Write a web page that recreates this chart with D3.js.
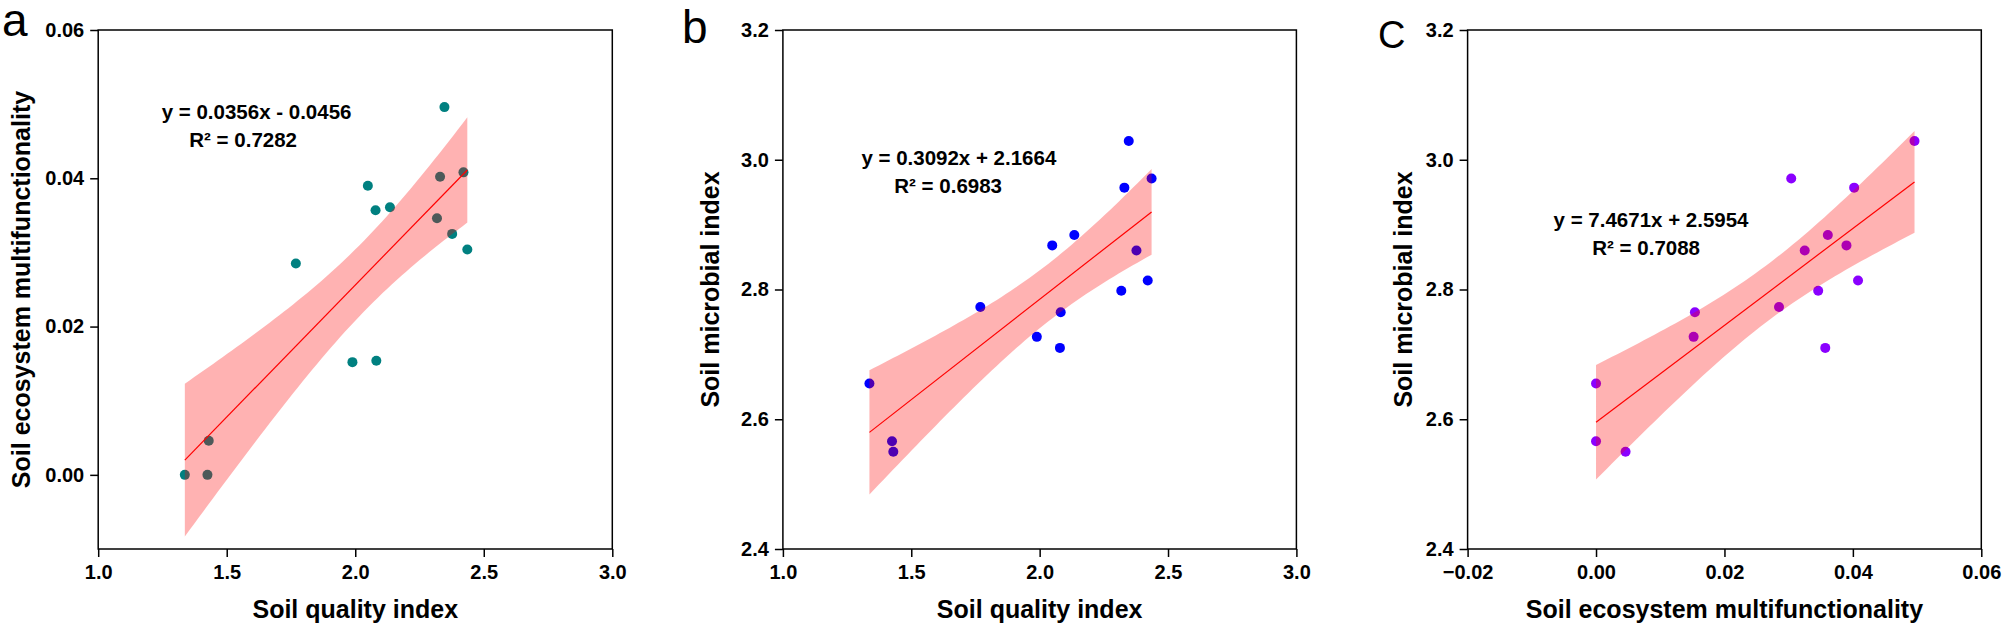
<!DOCTYPE html>
<html>
<head>
<meta charset="utf-8">
<script src="https://cdn.jsdelivr.net/npm/d3@7"></script>
<style>
  body { margin: 0; background: #fff; }
  svg { display: block; font-family: "Liberation Sans", Arial, sans-serif; }
</style>
</head>
<body>
<svg id="chart"></svg>
<script>
// one value per sample (15 plots)
const soilQuality = [1.337, 1.425, 1.430, 1.769, 1.989, 2.082, 2.049, 2.079, 2.135, 2.330, 2.318, 2.347, 2.377, 2.421, 2.436];
const multifunctionality = [0.0000, 0.0000, 0.0046, 0.0285, 0.0152, 0.0154, 0.0390, 0.0357, 0.0361, 0.0402, 0.0346, 0.0496, 0.0325, 0.0408, 0.0304];
const microbial = [2.655, 2.566, 2.550, 2.773, 2.727, 2.765, 2.868, 2.710, 2.884, 2.957, 2.798, 3.029, 2.860, 2.814, 2.971];

const sqiTicks = [1.0, 1.5, 2.0, 2.5, 3.0];
const semfTicks = [-0.02, 0.00, 0.02, 0.04, 0.06];
const semfTicksY = [0.00, 0.02, 0.04, 0.06];
const smiTicks = [2.4, 2.6, 2.8, 3.0, 3.2];

const panels = [
  {
    letter: 'a', letterX: 2, letterY: 36, letterSize: 46,
    xs: soilQuality, ys: multifunctionality,
    xDomain: [1, 3], yDomain: [-0.01, 0.06],
    xTicks: sqiTicks, yTicks: semfTicksY, xFmt: '.1f', yFmt: '.2f',
    xTitle: 'Soil quality index', yTitle: 'Soil ecosystem multifunctionality', yTitleX: 29.5,
    color: '#008080', slope: 0.0356, intercept: -0.0456,
    eq: 'y = 0.0356x - 0.0456', r2: 'R\u00b2 = 0.7282',
    eqPos: [161.7, 119.3], r2Pos: [189.3, 147.3],
    left: 98.2, right: 612.3
  },
  {
    letter: 'b', letterX: 682, letterY: 43, letterSize: 46,
    xs: soilQuality, ys: microbial,
    xDomain: [1, 3], yDomain: [2.4, 3.2],
    xTicks: sqiTicks, yTicks: smiTicks, xFmt: '.1f', yFmt: '.1f',
    xTitle: 'Soil quality index', yTitle: 'Soil microbial index', yTitleX: 718.5,
    color: '#0000ff', slope: 0.3092, intercept: 2.1664,
    eq: 'y = 0.3092x + 2.1664', r2: 'R\u00b2 = 0.6983',
    eqPos: [861.4, 164.8], r2Pos: [894.3, 193.2],
    left: 782.9, right: 1296.4
  },
  {
    letter: 'C', letterX: 1378, letterY: 48, letterSize: 38,
    xs: multifunctionality, ys: microbial,
    xDomain: [-0.02, 0.06], yDomain: [2.4, 3.2],
    xTicks: semfTicks, yTicks: smiTicks, xFmt: '.2f', yFmt: '.1f',
    xTitle: 'Soil ecosystem multifunctionality', yTitle: 'Soil microbial index', yTitleX: 1411.5,
    color: '#8a00ff', slope: 7.4671, intercept: 2.5954,
    eq: 'y = 7.4671x + 2.5954', r2: 'R\u00b2 = 0.7088',
    eqPos: [1553.6, 226.8], r2Pos: [1592.3, 254.8],
    left: 1467.6, right: 1981.3
  }
];

const W = 2004, H = 626;
const plotTop = 30, plotBottom = 549;

const svg = d3.select('#chart').attr('width', W).attr('height', H);

// 95% confidence band of the fitted line (t, df = 13)
function confBand(xs, ys, slope, intercept) {
  const n = xs.length;
  const mx = d3.mean(xs);
  const sxx = d3.sum(xs, v => (v - mx) * (v - mx));
  const sse = d3.sum(xs, (v, i) => Math.pow(ys[i] - (slope * v + intercept), 2));
  const s = Math.sqrt(sse / (n - 2));
  const t = 2.1604;
  const [x0, x1] = d3.extent(xs);
  return d3.range(0, 61).map(k => {
    const xv = x0 + (x1 - x0) * k / 60;
    const fit = slope * xv + intercept;
    const hw = t * s * Math.sqrt(1 / n + (xv - mx) * (xv - mx) / sxx);
    return { x: xv, lo: fit - hw, hi: fit + hw };
  });
}

panels.forEach(p => {
  const x = d3.scaleLinear().domain(p.xDomain).range([p.left, p.right]);
  const y = d3.scaleLinear().domain(p.yDomain).range([plotBottom, plotTop]);
  const g = svg.append('g');

  // points (band is drawn over them, so they darken inside it)
  g.selectAll('circle')
    .data(p.xs.map((v, i) => [v, p.ys[i]]))
    .enter()
    .append('circle')
    .attr('cx', d => x(d[0]))
    .attr('cy', d => y(d[1]))
    .attr('r', 5)
    .style('fill', p.color);

  const band = confBand(p.xs, p.ys, p.slope, p.intercept);
  g.append('path')
    .datum(band)
    .attr('d', d3.area().x(d => x(d.x)).y0(d => y(d.lo)).y1(d => y(d.hi)))
    .style('fill', 'rgba(255,0,0,0.3)');

  const [xmin, xmax] = d3.extent(p.xs);
  g.append('line')
    .attr('x1', x(xmin)).attr('y1', y(p.slope * xmin + p.intercept))
    .attr('x2', x(xmax)).attr('y2', y(p.slope * xmax + p.intercept))
    .style('stroke', '#ff0000').style('stroke-width', 1.2);

  // frame
  g.append('rect')
    .attr('x', p.left).attr('y', plotTop)
    .attr('width', p.right - p.left).attr('height', plotBottom - plotTop)
    .style('fill', 'none').style('stroke', '#000').style('stroke-width', 1.5);

  // axes
  const xAxis = g.append('g')
    .attr('transform', `translate(0,${plotBottom})`)
    .call(d3.axisBottom(x).tickValues(p.xTicks).tickFormat(d3.format(p.xFmt)).tickSize(8).tickPadding(8));
  const yAxis = g.append('g')
    .attr('transform', `translate(${p.left},0)`)
    .call(d3.axisLeft(y).tickValues(p.yTicks).tickFormat(d3.format(p.yFmt)).tickSize(8).tickPadding(6));
  [xAxis, yAxis].forEach(a => {
    a.select('.domain').remove();
    a.selectAll('line').style('stroke', '#000').style('stroke-width', 1.5);
    a.selectAll('text')
      .style('font-family', '"Liberation Sans", Arial, sans-serif')
      .style('font-size', '20px').style('font-weight', 'bold').style('fill', '#000');
  });

  // axis titles
  g.append('text')
    .attr('x', (p.left + p.right) / 2).attr('y', 618)
    .attr('text-anchor', 'middle')
    .style('font-size', '25px').style('font-weight', 'bold')
    .text(p.xTitle);

  g.append('text')
    .attr('text-anchor', 'middle')
    .attr('transform', `translate(${p.yTitleX},${(plotTop + plotBottom) / 2})rotate(-90)`)
    .style('font-size', '25px').style('font-weight', 'bold')
    .text(p.yTitle);

  // equation
  g.append('text')
    .attr('x', p.eqPos[0]).attr('y', p.eqPos[1])
    .style('font-size', '20.5px').style('font-weight', 'bold')
    .text(p.eq);
  g.append('text')
    .attr('x', p.r2Pos[0]).attr('y', p.r2Pos[1])
    .style('font-size', '20.5px').style('font-weight', 'bold')
    .text(p.r2);

  // panel letter
  g.append('text')
    .attr('x', p.letterX).attr('y', p.letterY)
    .style('font-size', p.letterSize + 'px')
    .text(p.letter);
});
</script>
</body>
</html>
